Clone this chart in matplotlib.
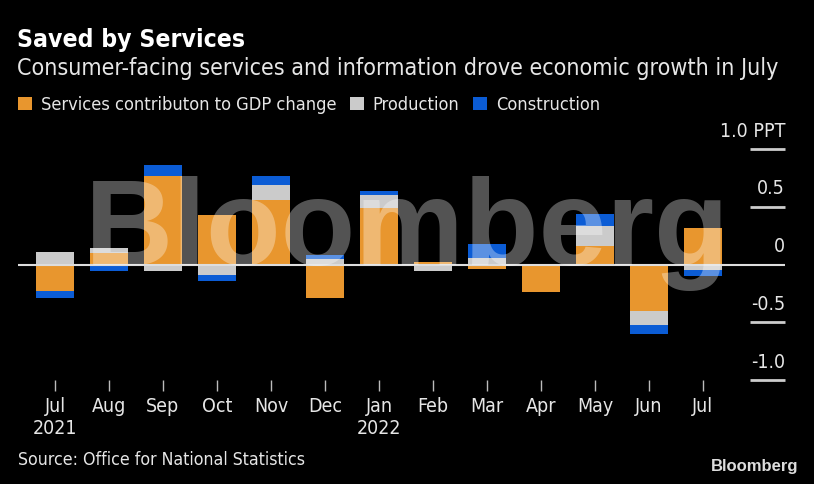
import numpy as np
import matplotlib.pyplot as plt
import matplotlib.transforms as mtransforms

months = ['Jul', 'Aug', 'Sep', 'Oct', 'Nov', 'Dec', 'Jan', 'Feb', 'Mar', 'Apr', 'May', 'Jun', 'Jul']
years = ['2021', '', '', '', '', '', '2022', '', '', '', '', '', '']
services = [-0.23, 0.10, 0.77, 0.43, 0.56, -0.29, 0.49, 0.025, -0.04, -0.24, 0.16, -0.40, 0.32]
production = [0.11, 0.045, -0.06, -0.09, 0.13, 0.05, 0.11, -0.055, 0.06, 0.0, 0.17, -0.12, -0.05]
construction = [-0.06, -0.06, 0.09, -0.05, 0.08, 0.03, 0.035, 0.0, 0.12, 0.0, 0.11, -0.08, -0.05]
yticks = [1.0, 0.5, 0, -0.5, -1.0]
ytick_labels = ['1.0 PPT', '0.5', '0', '-0.5', '-1.0']

orange = '#E8962E'
gray = '#CBCBCB'
blue = '#0B5CD5'
txt = '#E6E6E6'
plt.rcParams['font.family'] = ['DejaVu Sans']
plt.rcParams['font.stretch'] = 'condensed'

fig = plt.figure(figsize=(8.14, 4.84), dpi=100, facecolor='black')
ax = fig.add_axes([18 / 814, 104 / 484, 767 / 814, 231 / 484])
ax.set_facecolor('black')

x = np.arange(len(months))
width = 0.7
pos = np.zeros(len(x))
neg = np.zeros(len(x))
for vals, col, lab in [(services, orange, 'Services contributon to GDP change'),
                       (production, gray, 'Production'),
                       (construction, blue, 'Construction')]:
    vals = np.array(vals)
    bottom = np.where(vals >= 0, pos, neg)
    ax.bar(x, vals, width, bottom=bottom, color=col, label=lab, zorder=2)
    pos = pos + np.where(vals >= 0, vals, 0)
    neg = neg + np.where(vals < 0, vals, 0)

ax.axhline(0, color='#DDDDDD', lw=1.5, zorder=3)

ax.set_xlim(-0.685, 13.52)
ax.set_ylim(-1.0, 1.0)
for s in ax.spines.values():
    s.set_visible(False)
ax.set_yticks([])
ax.set_xticks(x)
ax.set_xticklabels([m + '\n' + y for m, y in zip(months, years)], color=txt,
                   fontsize=14, linespacing=1.2, va='top')
ax.tick_params(axis='x', colors='#BBBBBB', length=8, width=1, pad=4, labelcolor=txt)

# right-hand value labels with short rules
trans = mtransforms.blended_transform_factory(ax.transAxes, ax.transData)
for v, lab in zip(yticks, ytick_labels):
    if v != 0:
        ax.plot([(750 - 18) / 767, 1.0], [v, v], color='#CCCCCC', lw=2,
                transform=trans, clip_on=False, solid_capstyle='butt')
    ax.annotate(lab, (1.0, v), xycoords=trans, xytext=(0, 6), textcoords='offset points',
                ha='right', va='bottom', color=txt, fontsize=14, annotation_clip=False)

# watermark
fig.text(407.5 / 814, (484 - 265) / 484, 'Bloomberg', family=['Liberation Sans', 'DejaVu Sans'],
         fontsize=88, fontweight='bold', fontstretch='normal', color='white', alpha=0.33,
         ha='center', va='baseline', zorder=10)

fig.text(17 / 814, 1 - 40 / 484, 'Saved by Services', color='white', fontsize=17.7,
         fontweight='bold', va='center', ha='left')
fig.text(17 / 814, 1 - 68 / 484,
         'Consumer-facing services and information drove economic growth in July',
         color=txt, fontsize=16.7, va='center', ha='left')

handles, labels = ax.get_legend_handles_labels()
leg = fig.legend(handles, labels, loc='center left', bbox_to_anchor=(18 / 814, 1 - 105 / 484),
                 ncol=3, frameon=False, fontsize=13.1, handlelength=0.75, handleheight=0.75,
                 handletextpad=0.5, columnspacing=0.75, labelcolor=txt, borderaxespad=0,
                 borderpad=0)

fig.text(18 / 814, 1 - 460 / 484, 'Source: Office for National Statistics', color=txt,
         fontsize=12.7, va='center', ha='left')
fig.text(798 / 814, 1 - 467 / 484, 'Bloomberg', family=['Liberation Sans', 'DejaVu Sans'],
         fontstretch='normal', color='#DDDDDD', fontsize=12, fontweight='bold',
         va='center', ha='right')

plt.savefig('out.png', dpi=100, facecolor='black')
